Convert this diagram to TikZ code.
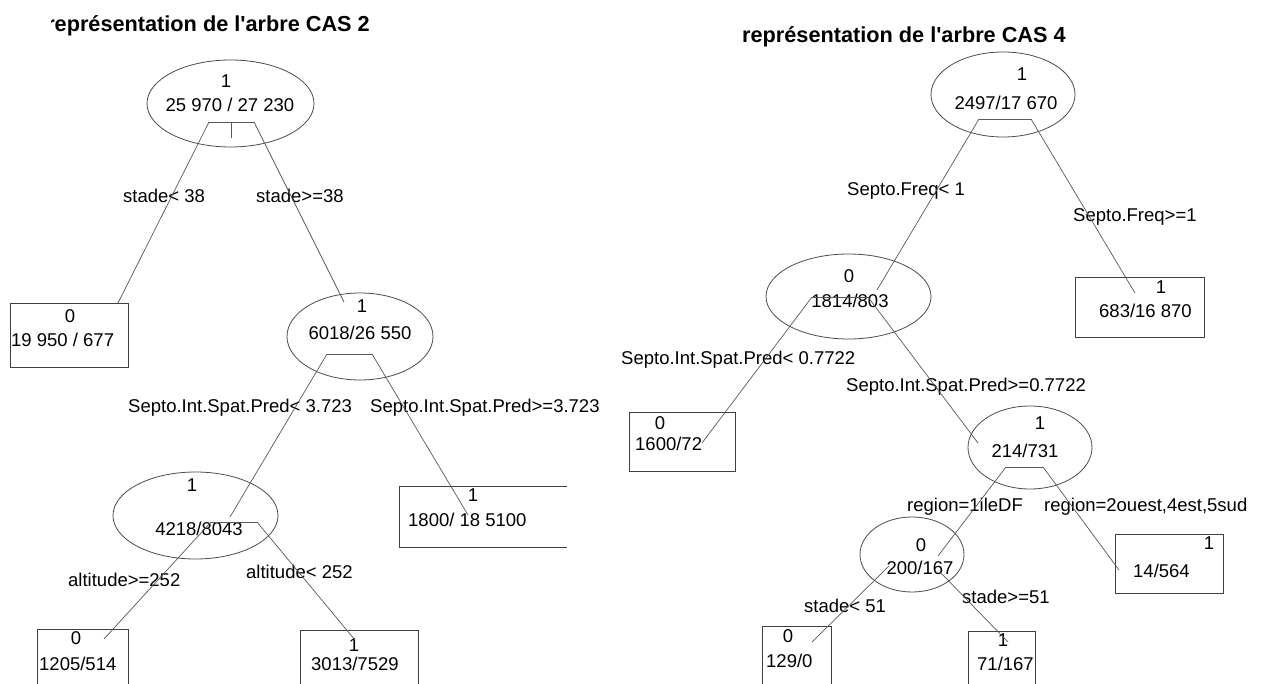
\documentclass[tikz,border=0pt]{standalone}
\usepackage{fontspec}
\setmainfont{Liberation Sans}[Ligatures=TeXOff]
\usetikzlibrary{shapes.geometric}
\begin{document}
\begin{tikzpicture}[x=1pt,y=-1pt,
  ell/.style={draw=black!70, ellipse, inner sep=0, line width=0.8pt},
  leaf/.style={draw=black!75, rectangle, inner sep=0, line width=0.8pt},
  edge/.style={draw=black!65, line width=0.7pt},
  txt/.style={inner sep=0, font=\fontsize{18.5}{20}\selectfont, anchor=base west},
  num/.style={inner sep=0, font=\fontsize{18.5}{20}\selectfont, anchor=base},
  ttl/.style={inner sep=0, font=\fontsize{21.7}{24}\selectfont\bfseries}]
\useasboundingbox (0,0) rectangle (1262,684);
\clip (0,0) rectangle (1262,684);
\fill[white] (0,0) rectangle (1262,684);

% ---------------- left tree : CAS 2 ----------------
\begin{scope}
\clip (51,0) rectangle (400,60);
\node[ttl, anchor=base east] (t2) at (370,32) {représentation de l'arbre CAS 2};
\end{scope}

\node[ell, minimum width=167, minimum height=87] (e1) at (230.5,103.5) {};
\node[num] (e1a) at (226,88) {1};
\node[num] (e1b) at (230,112) {25 970 / 27 230};
\coordinate (e1L) at (209,122); \coordinate (e1R) at (254,122);
\coordinate (e1T) at (231,122); \coordinate (e1Tb) at (231,138);
\draw[edge] (e1L) -- (e1R);
\draw[edge] (e1T) -- (e1Tb);

\node[leaf, minimum width=118, minimum height=64] (b1) at (69,335) {};
\node[num] (b1a) at (70,323) {0};
\node[txt] (b1b) at (11,347) {19 950 / 677};
\coordinate (b1in) at (118,303);

\node[ell, minimum width=146, minimum height=87] (e2) at (360,336.5) {};
\node[num] (e2a) at (362,313) {1};
\node[num] (e2b) at (360,340) {6018/26 550};
\coordinate (e2in) at (344,302);
\coordinate (e2L) at (327,354); \coordinate (e2R) at (372,354);
\draw[edge] (e2L) -- (e2R);

\node[txt] (l1) at (123,203) {stade< 38};
\node[txt] (l2) at (256,203) {stade>=38};
\draw[edge] (e1L) -- (b1in);
\draw[edge] (e1R) -- (e2in);

% open leaf 1800
\draw[leaf] (567,486) -- (399,486) -- (399,547) -- (567,547);
\node[num] (b2a) at (473,502) {1};
\node[txt] (b2b) at (408,527) {1800/ 18 5100};
\coordinate (b2in) at (468,515);

\node[ell, minimum width=165, minimum height=87] (e3) at (195.5,515.5) {};
\node[num] (e3a) at (192,492) {1};
\node[num] (e3b) at (199,536) {4218/8043};
\coordinate (e3in) at (230,517);
\coordinate (e3L) at (211,522); \coordinate (e3R) at (257,522);
\draw[edge] (e3L) -- (e3R);

\node[txt] (l3) at (128,413) {Septo.Int.Spat.Pred< 3.723};
\node[txt] (l4) at (370,413) {Septo.Int.Spat.Pred>=3.723};
\draw[edge] (e2L) -- (e3in);
\draw[edge] (e2R) -- (b2in);

\node[leaf, minimum width=91, minimum height=71] (b3) at (82.5,664.5) {};
\node[num] (b3a) at (76,644) {0};
\node[txt] (b3b) at (39,670) {1205/514};
\coordinate (b3in) at (104,639);

\node[leaf, minimum width=118, minimum height=70] (b4) at (359,665) {};
\node[num] (b4a) at (354,651) {1};
\node[txt] (b4b) at (311,670) {3013/7529};
\coordinate (b4in) at (355,640);

\node[txt] (l5) at (68,586) {altitude>=252};
\node[txt] (l6) at (246,579) {altitude< 252};
\draw[edge] (e3L) -- (b3in);
\draw[edge] (e3R) -- (b4in);

% ---------------- right tree : CAS 4 ----------------
\node[ttl, anchor=base west] (t4) at (742,43) {représentation de l'arbre CAS 4};

\node[ell, minimum width=144, minimum height=85] (f1) at (1003,94.5) {};
\node[num] (f1a) at (1022,81) {1};
\node[num] (f1b) at (1006,110) {2497/17 670};
\coordinate (f1L) at (979,119); \coordinate (f1R) at (1031,119);
\draw[edge] (f1L) -- (f1R);

\node[leaf, minimum width=129, minimum height=60] (c1) at (1139.5,307) {};
\node[num] (c1a) at (1161,294) {1};
\node[txt] (c1b) at (1099,318) {683/16 870};
\coordinate (c1in) at (1135,293);

\node[ell, minimum width=165, minimum height=85] (f2) at (848.5,296.5) {};
\node[num] (f2a) at (849,283) {0};
\node[num] (f2b) at (850,308) {1814/803};
\coordinate (f2in) at (877,290);
\coordinate (f2L) at (812,297); \coordinate (f2R) at (868,297);
\draw[edge] (f2L) -- (f2R);

\node[txt] (m1) at (847,196) {Septo.Freq< 1};
\node[txt] (m2) at (1073,222) {Septo.Freq>=1};
\draw[edge] (f1L) -- (f2in);
\draw[edge] (f1R) -- (c1in);

\node[leaf, minimum width=106, minimum height=59] (c2) at (682,441.5) {};
\node[num] (c2a) at (660,430) {0};
\node[txt] (c2b) at (635,451) {1600/72};
\coordinate (c2in) at (702,443);

\node[ell, minimum width=124, minimum height=83] (f3) at (1030,447.5) {};
\node[num] (f3a) at (1040,430) {1};
\node[num] (f3b) at (1025,458) {214/731};
\coordinate (f3in) at (978,443);
\coordinate (f3L) at (1006,467); \coordinate (f3R) at (1043,467);
\draw[edge] (f3L) -- (f3R);

\node[txt] (m3) at (621,365) {Septo.Int.Spat.Pred< 0.7722};
\node[txt] (m4) at (846,392) {Septo.Int.Spat.Pred>=0.7722};
\draw[edge] (f2L) -- (c2in);
\draw[edge] (f2R) -- (f3in);

\node[ell, minimum width=104, minimum height=75] (f4) at (912,554.5) {};
\node[num] (f4a) at (921,551) {0};
\node[num] (f4b) at (920,574) {200/167};
\coordinate (f4in) at (938,556);
\coordinate (f4L) at (889,566); \coordinate (f4R) at (940,572);

\node[leaf, minimum width=108, minimum height=59] (c3) at (1169,563.5) {};
\node[num] (c3a) at (1209,550) {1};
\node[txt] (c3b) at (1133,577) {14/564};
\coordinate (c3in) at (1119,570);

\node[txt] (m5) at (907,512) {region=1ileDF};
\node[txt] (m6) at (1044,512) {region=2ouest,4est,5sud};
\draw[edge] (f3L) -- (f4in);
\draw[edge] (f3R) -- (c3in);

\node[leaf, minimum width=69, minimum height=74] (c4) at (796.5,663) {};
\node[num] (c4a) at (788,642) {0};
\node[txt] (c4b) at (766,667) {129/0};
\coordinate (c4in) at (812,642);

\node[leaf, minimum width=67, minimum height=69] (c5) at (1001.5,665.5) {};
\node[num] (c5a) at (1003,646) {1};
\node[txt] (c5b) at (977,670) {71/167};
\coordinate (c5in) at (1008,642);

\node[txt] (m7) at (804,612) {stade< 51};
\node[txt] (m8) at (962,603) {stade>=51};
\draw[edge] (f4L) -- (c4in);
\draw[edge] (f4R) -- (c5in);
\end{tikzpicture}
\end{document}
